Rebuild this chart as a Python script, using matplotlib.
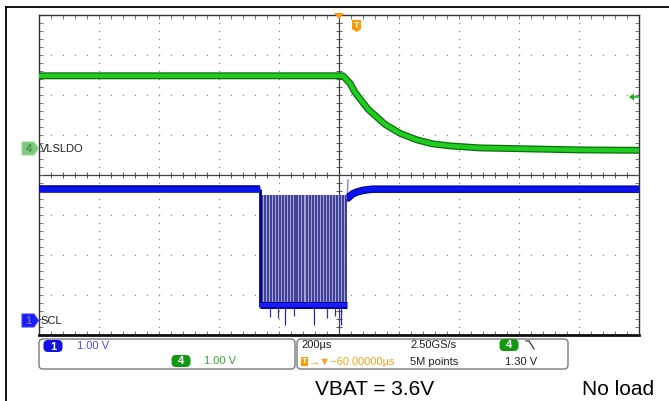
import numpy as np
import matplotlib
matplotlib.use("Agg")
import matplotlib.pyplot as plt
from matplotlib.patches import Polygon, FancyBboxPatch
from matplotlib import font_manager

# ---------------- data (time in us, volts) ----------------
# Channel 4: VLSLDO
g_t = [-1000, 13, 37, 53, 97, 153, 203, 260, 313, 370, 470, 603, 803, 1000]
g_v = [1.81, 1.81, 1.62, 1.40, 0.975, 0.60, 0.375, 0.21, 0.11, 0.06, 0.01, -0.01, -0.04, -0.05]

# Channel 1: SCL (idle level before / recovery after the burst)
b_pre_t = [-1000, -264]
b_pre_v = [3.27, 3.27]
b_post_t = [27, 30, 45, 60, 80, 110, 1000]
b_post_v = [3.05, 3.05, 3.15, 3.20, 3.24, 3.27, 3.27]
burst_start, burst_end = -263, 27
burst_high, burst_low = 3.12, 0.33
pulse_t = [-256, -247, -237, -227, -217, -207, -197, -187, -177, -168, -158, -148,
           -139, -129, -119, -108, -98, -88, -78, -68, -58, -48, -38, -28, -18, -8,
           2, 12, 22]
spike_t = [-180, -83, 7]
spike_v = [-0.12, -0.12, -0.12]
short_spike_t = [-230, -205, -150, -40, -15]
short_spike_v = [0.08, 0.05, 0.1, 0.06, 0.1]

CH4_OFFSET = 0.66   # divisions
CH1_OFFSET = -3.63  # divisions
VDIV = 1.0

names = {f.name for f in font_manager.fontManager.ttflist}
NARROW = 'Liberation Sans Narrow' if 'Liberation Sans Narrow' in names else 'Liberation Sans'
FONT = ['Liberation Sans', 'DejaVu Sans']

W, H = 669, 401
fig = plt.figure(figsize=(W / 100, H / 100), dpi=100)
fig.patch.set_facecolor('white')

# main scope axes
L, R, T, B = 39, 639, 14.5, 335
ax = fig.add_axes([L / W, 1 - B / H, (R - L) / W, (B - T) / H])
ax.set_xlim(-1000, 1000)
ax.set_ylim(-4, 4)
ax.set_facecolor('white')
for s in ax.spines.values():
    s.set_color('#303030')
    s.set_linewidth(1.0)
ax.spines['bottom'].set_linewidth(2.0)
ax.spines['bottom'].set_color('#101010')
ax.set_xticks(np.arange(-1000, 1001, 40))
ax.set_yticks(np.arange(-4, 4.001, 0.2))
ax.tick_params(direction='in', length=3, width=0.6, color='#606060',
               top=True, right=True, labelbottom=False, labelleft=False)

# dotted grid
gx = np.arange(-1000, 1001, 40)
for yy in [-3, -2, -1, 1, 2, 3]:
    ax.plot(gx, np.full_like(gx, yy, dtype=float), ls='none', marker='s', ms=0.9,
            mew=0, color='#8a8a8a', zorder=1)
gy = np.arange(-4, 4.001, 0.2)
for xx in [-800, -600, -400, -200, 200, 400, 600, 800]:
    ax.plot(np.full_like(gy, xx), gy, ls='none', marker='s', ms=0.9,
            mew=0, color='#8a8a8a', zorder=1)
# centre cross with ticks
ax.axhline(0, color='#404040', lw=0.9, zorder=1)
ax.axvline(0, color='#404040', lw=0.9, zorder=1)
ax.plot(gx, np.zeros_like(gx, dtype=float), ls='none', marker='|', ms=4.5, mew=0.6,
        color='#404040', zorder=1)
ax.plot(np.zeros_like(gy), gy, ls='none', marker='_', ms=4.5, mew=0.6,
        color='#404040', zorder=1)

# green trace
gd = CH4_OFFSET + np.array(g_v) / VDIV
ax.plot(g_t, gd, color='#0b6e0b', lw=5.0, solid_capstyle='butt', zorder=3)
ax.plot(g_t, gd, color='#1fcc1f', lw=3.2, solid_capstyle='butt', zorder=4)

# blue trace
def b(v):
    return CH1_OFFSET + np.asarray(v, dtype=float) / VDIV

ax.fill_between([burst_start, burst_end], b(burst_low), b(burst_high),
                color='#a4a4d0', lw=0, zorder=2)
ax.vlines(pulse_t, b(burst_low), b(burst_high), color='#222288', lw=1.1, zorder=3)
ax.vlines(spike_t, b(spike_v), b(burst_low), color='#262690', lw=0.9, zorder=3)
ax.vlines(short_spike_t, b(short_spike_v), b(burst_low), color='#3030a0', lw=0.9, zorder=3)
ax.vlines([burst_start], b(burst_low), b(3.27), color='#000090', lw=2.0, zorder=4)
ax.plot([burst_start, burst_end], b([burst_low + 0.05, burst_low + 0.05]),
        color='#000090', lw=5.0, solid_capstyle='butt', zorder=4)
ax.plot([burst_start, burst_end], b([burst_low + 0.05, burst_low + 0.05]),
        color='#1a1aff', lw=3.0, solid_capstyle='butt', zorder=5)
ax.plot([burst_end, burst_end + 3], b([3.05, 3.5]), color='#8080e0', lw=1.0, zorder=4)
for tt, vv in [(b_pre_t, b_pre_v), (b_post_t, b_post_v)]:
    ax.plot(tt, b(vv), color='#000090', lw=5.4, solid_capstyle='butt', zorder=4)
    ax.plot(tt, b(vv), color='#0a14f0', lw=3.8, solid_capstyle='butt', zorder=5)

# ---------------- overlay in pixel coordinates ----------------
ov = fig.add_axes([0, 0, 1, 1], zorder=5)
ov.set_xlim(0, W)
ov.set_ylim(H, 0)
ov.axis('off')

# outer frame
ov.plot([6, W], [7, 7], color='black', lw=1.3)
ov.plot([6, 6], [7, H], color='black', lw=1.3)

# trigger markers
ov.add_patch(Polygon([(334, 13), (344, 13), (339, 19)], closed=True, color='#ff9a00', lw=0))
ov.add_patch(Polygon([(352, 20), (361, 20), (361, 29), (356.5, 32), (352, 29)],
                     closed=True, color='#ff9a00', lw=0))
ov.text(356.5, 25.5, 'T', color='white', fontsize=6.5, fontweight='bold',
        ha='center', va='center', family=FONT)
ov.add_patch(Polygon([(629, 97), (634, 93.5), (634, 100.5)], closed=True, color='#22aa22', lw=0))
ov.plot([633, 639], [97, 97], color='#22aa22', lw=1.2)

# channel markers
ov.add_patch(Polygon([(22, 142), (34, 142), (38.5, 148.5), (34, 155), (22, 155)],
                     closed=True, facecolor='#7cc87c', edgecolor='#99dd99', lw=0.8))
ov.text(28.5, 148.8, '4', color='#4f8f4f', fontsize=8, fontweight='bold',
        ha='center', va='center', family=FONT)
ov.text(40, 148.5, 'VLSLDO', color='#202020', fontsize=8, ha='left', va='center', family=NARROW)
ov.add_patch(Polygon([(22, 314), (34, 314), (38.5, 320.5), (34, 327), (22, 327)],
                     closed=True, facecolor='#1a1aff', edgecolor='#4040ff', lw=0.8))
ov.text(28.5, 320.8, '1', color='#7070b0', fontsize=8, fontweight='bold',
        ha='center', va='center', family=FONT)
ov.text(40, 320.5, 'SCL', color='#202020', fontsize=8, ha='left', va='center', family=NARROW)

# info panel
for x0, x1 in [(39, 295), (297, 568)]:
    ov.add_patch(FancyBboxPatch((x0 + 4, 339 + 4), x1 - x0 - 8, 30 - 8,
                                boxstyle='round,pad=4', facecolor='white',
                                edgecolor='#7a7a7a', lw=1.0))

def badge(cx, cy, txt, color):
    ov.add_patch(FancyBboxPatch((cx - 5, cy - 1.5), 10, 3, boxstyle='round,pad=4.5',
                                facecolor=color, edgecolor='none'))
    ov.text(cx, cy + 0.5, txt, color='white', fontsize=8, fontweight='bold',
            ha='center', va='center', family=FONT)

badge(53, 346, '1', '#1212e6')
ov.text(77, 346, '1.00 V', color='#4a4aff', fontsize=8, ha='left', va='center', family=FONT)
badge(181, 361, '4', '#119911')
ov.text(204, 361, '1.00 V', color='#33aa33', fontsize=8, ha='left', va='center', family=FONT)

ov.text(301, 345, '200µs', color='#202020', fontsize=8, ha='left', va='center', family=FONT)
ov.add_patch(Polygon([(301, 357), (308, 357), (308, 366), (301, 366)], closed=True,
                     color='#ff9a00', lw=0))
ov.text(304.5, 361.7, 'T', color='white', fontsize=6, fontweight='bold',
        ha='center', va='center', family=FONT)
ov.text(309, 362, '→▼−60.00000µs', color='#ffa020', fontsize=8, ha='left', va='center',
        family=FONT)
ov.text(410, 345, '2.50GS/s', color='#202020', fontsize=8, ha='left', va='center', family=FONT)
ov.text(410, 362, '5M points', color='#202020', fontsize=8, ha='left', va='center', family=FONT)
badge(509, 345, '4', '#119911')
ov.plot([526, 529, 534], [341, 341, 349], color='#202020', lw=0.8)
ov.text(505, 362, '1.30 V', color='#202020', fontsize=8, ha='left', va='center', family=FONT)

# caption
ov.text(315, 395, 'VBAT = 3.6V', color='black', fontsize=15, ha='left', va='baseline', family=FONT)
ov.text(582, 395, 'No load', color='black', fontsize=15, ha='left', va='baseline', family=FONT)

fig.savefig('out.png', dpi=100)
